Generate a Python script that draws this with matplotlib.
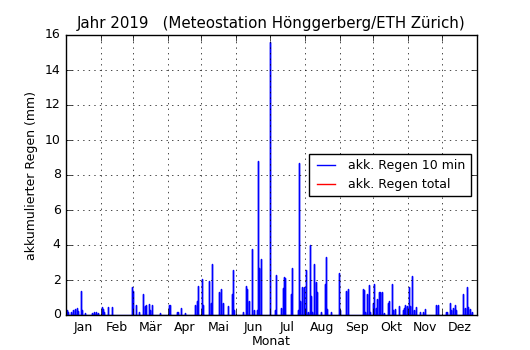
import matplotlib
matplotlib.use("Agg")
import matplotlib.pyplot as plt
import numpy as np

# Tagessummen Regen 2019 (Tag im Jahr, mm)
tage = [0.9, 1.8, 4.4, 6.2, 8.0, 9.8, 10.7, 12.9, 14.2, 16.9, 23.1, 24.9, 26.6, 28.4,
        31.5, 32.4, 33.7, 37.3, 40.9,
        58.6, 59.5, 61.6, 64.8, 67.8, 69.9, 71.3, 73.4, 74.8, 76.4, 83.7,
        91.2, 92.6, 98.0, 99.2, 102.4, 105.4, 114.8, 116.3, 117.2,
        120.5, 121.9, 127.0, 128.8, 129.9, 135.9, 137.7, 139.7, 144.1, 147.2, 148.0, 149.2,
        157.5, 159.9, 161.0, 162.3, 165.5, 166.7, 169.4, 170.3, 171.4, 172.9,
        180.9, 185.9, 186.8, 191.2, 192.5, 193.9, 194.8, 200.1, 200.7, 206.0, 207.2, 208.1, 209.9,
        211.1, 212.9, 213.4, 214.9, 217.0, 217.8, 218.7, 220.5, 222.0, 223.2, 226.2, 229.8, 230.6,
        231.8, 235.1,
        242.7, 243.6, 248.7, 250.2, 263.8, 264.7, 265.5, 267.3, 269.1, 270.2, 272.9,
        273.8, 275.3, 276.5, 277.7, 278.6, 280.2, 282.7, 286.2, 287.1, 289.5, 290.7, 292.5, 296.0,
        299.0, 300.4, 301.3, 302.6,
        304.6, 305.5, 307.3, 309.1, 310.6, 314.0, 317.0, 318.8, 329.0, 330.6,
        337.2, 338.6, 340.8, 341.9, 343.9, 345.2, 346.0, 352.3, 354.1, 355.8, 356.4, 357.3, 358.5, 360.3]
regen = [0.3, 0.2, 0.2, 0.3, 0.35, 0.4, 0.25, 1.4, 0.3, 0.1, 0.1, 0.2, 0.2, 0.1,
         0.45, 0.35, 0.2, 0.45, 0.45,
         1.6, 1.4, 0.6, 0.2, 1.2, 0.5, 0.55, 0.65, 0.3, 0.55, 0.1,
         0.55, 0.55, 0.2, 0.15, 0.4, 0.1, 0.6, 0.8, 1.65,
         2.05, 0.6, 1.95, 0.7, 2.9, 1.3, 1.5, 0.7, 0.5, 1.2, 2.6, 0.3,
         0.15, 1.65, 1.5, 0.8, 3.8, 0.3, 0.3, 8.8, 2.7, 3.2,
         15.6, 0.3, 2.3, 0.4, 1.55, 2.15, 2.1, 1.2, 2.7, 0.3, 8.7, 0.8, 1.6,
         1.6, 2.6, 2.6, 0.2, 4.0, 1.1, 0.2, 2.9, 1.9, 1.3, 0.2, 1.8, 3.3,
         0.35, 0.2,
         2.4, 0.3, 1.4, 1.5, 1.5, 1.45, 0.2, 1.2, 1.7, 0.2, 0.7,
         1.8, 0.4, 0.9, 1.3, 1.3, 1.3, 0.1, 0.7, 0.8, 1.8, 0.3, 0.35, 0.5,
         0.3, 0.4, 0.6, 0.5,
         1.6, 0.5, 2.25, 0.3, 0.45, 0.15, 0.2, 0.35, 0.6, 0.55,
         0.15, 0.2, 0.7, 0.3, 0.4, 0.55, 0.3, 1.2, 0.4, 0.6, 1.6, 0.45, 0.35, 0.2]

monate = ["Jan", "Feb", "Mär", "Apr", "Mai", "Jun", "Jul", "Aug", "Sep", "Okt", "Nov", "Dez"]
monatslaenge = [31, 28, 31, 30, 31, 30, 31, 31, 30, 31, 30, 31]

plt.style.use("classic")
plt.rcParams["figure.facecolor"] = "white"

# jede Tagessumme als senkrechter Strich ab 0
t = np.array(tage)
r = np.array(regen)
x = np.column_stack([t, t, t]).ravel()
y = np.column_stack([np.zeros_like(r), r, np.zeros_like(r)]).ravel()

fig, ax = plt.subplots(figsize=(5.3, 3.5), dpi=100)
ax.plot(x, y, color="b", linewidth=1.0, label="akk. Regen 10 min")
ax.plot([], [], color="r", linewidth=1.0, label="akk. Regen total")

monatsanfang = np.concatenate([[0], np.cumsum(monatslaenge)[:-1]])
monatsmitte = monatsanfang + np.array(monatslaenge) / 2
ax.set_xticks(monatsanfang)
ax.set_xticklabels([])
ax.set_xticks(monatsmitte, minor=True)
ax.set_xticklabels(monate, minor=True, fontsize=9)
ax.tick_params(axis="x", which="minor", length=0)
ax.set_xlim(0, 365)
ax.set_ylim(0, 16)
ax.set_yticks(np.arange(0, 17, 2))
ax.tick_params(axis="y", labelsize=9)
ax.grid(True, which="major")

ax.set_xlabel("Monat", fontsize=9, labelpad=1)
ax.set_ylabel("akkumulierter Regen (mm)", fontsize=9)
ax.set_title("Jahr 2019   (Meteostation Hönggerberg/ETH Zürich)", fontsize=10.8)
ax.legend(loc="center right", fontsize=9)

fig.subplots_adjust(left=0.125, right=0.9, bottom=0.1, top=0.9)
fig.savefig("out.png", dpi=100, facecolor="white")
